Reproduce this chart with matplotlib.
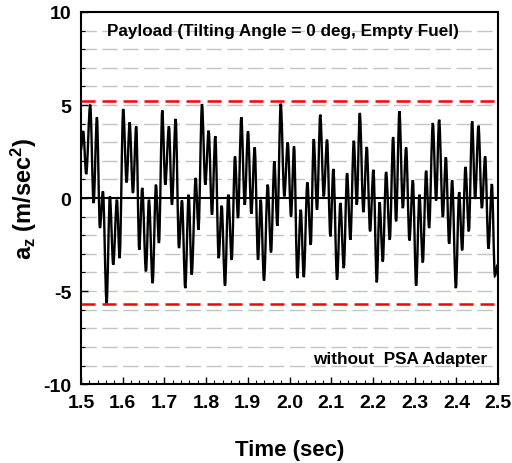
import numpy as np
import matplotlib.pyplot as plt
from matplotlib.path import Path
from matplotlib.patches import PathPatch

plt.rcParams['font.family'] = ['Liberation Sans', 'DejaVu Sans']
plt.rcParams['font.weight'] = 'bold'
plt.rcParams['mathtext.fontset'] = 'custom'
plt.rcParams['mathtext.rm'] = 'Liberation Sans:bold'
plt.rcParams['mathtext.bf'] = 'Liberation Sans:bold'
plt.rcParams['mathtext.it'] = 'Liberation Sans:bold'

# Acceleration response: successive peaks and troughs (time in sec, a_z in m/sec^2)
time = [
    1.5000, 1.5055, 1.5127, 1.5223, 1.5305, 1.5384, 1.5456, 1.5528, 1.5616, 1.5695,
    1.5775, 1.5863, 1.5928, 1.6014, 1.6096, 1.6168, 1.6247, 1.6326, 1.6398, 1.6470,
    1.6559, 1.6631, 1.6719, 1.6799, 1.6871, 1.6950, 1.7022, 1.7110, 1.7182, 1.7271,
    1.7350, 1.7422, 1.7501, 1.7583, 1.7655, 1.7751, 1.7818, 1.7902, 1.7981, 1.8062,
    1.8141, 1.8221, 1.8302, 1.8374, 1.8453, 1.8532, 1.8614, 1.8693, 1.8765, 1.8844,
    1.8926, 1.9005, 1.9084, 1.9165, 1.9245, 1.9309, 1.9388, 1.9477, 1.9556, 1.9636,
    1.9707, 1.9789, 1.9875, 1.9957, 2.0036, 2.0108, 2.0187, 2.0269, 2.0341, 2.0427,
    2.0508, 2.0580, 2.0659, 2.0736, 2.0820, 2.0899, 2.0978, 2.1050, 2.1139, 2.1218,
    2.1300, 2.1379, 2.1458, 2.1540, 2.1612, 2.1683, 2.1770, 2.1851, 2.1930, 2.2010,
    2.2091, 2.2158, 2.2235, 2.2314, 2.2403, 2.2482, 2.2554, 2.2633, 2.2715, 2.2794,
    2.2873, 2.2955, 2.3034, 2.3113, 2.3194, 2.3273, 2.3345, 2.3434, 2.3513, 2.3585,
    2.3674, 2.3746, 2.3825, 2.3897, 2.3986, 2.4065, 2.4137, 2.4216, 2.4297, 2.4376,
    2.4448, 2.4528, 2.4609, 2.4688, 2.4767, 2.4849, 2.4921, 2.4985,
]
accel = [
    2.60, 3.60, 1.29, 5.02, -0.27, 4.34, -1.61, 0.36, -5.65, 0.09,
    -3.58, -0.09, -3.23, 4.78, 0.84, 4.07, 0.27, 3.85, -2.78, 0.54,
    -3.94, -0.09, -4.57, 0.72, -2.42, 4.71, 0.72, 3.85, -0.36, 4.25,
    -2.69, -0.13, -4.84, 0.18, -4.12, 1.08, -1.70, 5.05, 0.72, 3.62,
    -0.90, 3.32, -3.23, -0.41, -4.71, 0.18, -3.32, 2.24, -1.08, 4.34,
    -0.36, 3.58, -0.84, 2.72, -3.32, -0.09, -4.43, 0.72, -2.92, 1.97,
    -1.49, 5.07, 0.09, 2.99, -0.99, 2.78, -4.30, -0.63, -4.25, 0.84,
    -2.51, 3.17, -0.63, 4.48, 0.09, 3.14, -2.06, 1.56, -4.39, -0.27,
    -3.76, 1.34, -2.24, 3.08, -0.36, 4.57, -0.75, 2.74, -1.79, 1.52,
    -4.53, -0.23, -3.41, 1.40, -2.24, 3.28, -1.25, 4.66, -0.54, 2.72,
    -2.28, 0.95, -4.71, 0.18, -3.46, 1.47, -1.61, 4.03, -0.13, 4.21,
    -1.02, 2.20, -2.46, 0.95, -4.84, 0.32, -2.81, 1.67, -1.79, 4.12,
    -0.05, 3.89, -0.54, 2.24, -2.72, 0.75, -4.18, -3.60,
]

# Max / min envelope levels
upper_limit = 5.2
lower_limit = -5.7

fig = plt.figure(figsize=(5.12, 4.64), dpi=100)
ax = fig.add_axes([0.158, 0.170, 0.815, 0.802])

# light dashed grid at every 1 m/sec^2
for g in range(-9, 10):
    if g == 0:
        continue
    ax.axhline(g, color='#c4c4c4', lw=1.0, ls=(0, (11, 4)), zorder=1)

ax.axhline(0, color='black', lw=1.5, zorder=2)
ax.axhline(upper_limit, color='#ff0000', lw=1.8, ls=(0, (5.6, 2.8)), zorder=3)
ax.axhline(lower_limit, color='#ff0000', lw=1.8, ls=(0, (5.6, 2.8)), zorder=3)

# smooth curve through the extrema (horizontal tangent at each peak)
verts = [(time[0], accel[0])]
codes = [Path.MOVETO]
for i in range(1, len(time)):
    t0, y0 = time[i - 1], accel[i - 1]
    t1, y1 = time[i], accel[i]
    dt = (t1 - t0) / 3.0
    verts += [(t0 + dt, y0), (t1 - dt, y1), (t1, y1)]
    codes += [Path.CURVE4] * 3
ax.add_patch(PathPatch(Path(verts, codes), facecolor='none', edgecolor='black',
                       lw=1.7, zorder=4))

ax.set_xlim(1.5, 2.5)
ax.set_ylim(-10, 10)
ax.set_xticks(np.arange(1.5, 2.51, 0.1))
ax.set_xticks(np.arange(1.5, 2.51, 0.02), minor=True)
ax.set_xticklabels([f'{v:.1f}' for v in np.arange(1.5, 2.51, 0.1)])
ax.set_yticks([-10, -5, 0, 5, 10])
ax.set_yticks(np.arange(-10, 11, 1), minor=True)
ax.set_yticklabels(['-10', '-5', '0', '5', '10'])
ax.tick_params(axis='both', which='major', direction='in', length=5, width=1,
               labelsize=14, pad=7)
ax.tick_params(axis='both', which='minor', direction='in', length=3, width=0.8)
ax.tick_params(top=False, right=False, which='both')
for s in ax.spines.values():
    s.set_linewidth(1.5)

ax.set_xlabel('Time (sec)', fontsize=16, fontweight='bold', labelpad=20)
ax.set_ylabel(r'a$_\mathbf{z}$ (m/sec$^\mathbf{2}$)', fontsize=17,
              fontweight='bold', labelpad=3)

ax.text(1.983, 9.0, 'Payload (Tilting Angle = 0 deg, Empty Fuel)', ha='center',
        va='center', fontsize=12.3, fontweight='bold', zorder=5)
ax.text(2.474, -8.6, 'without  PSA Adapter', ha='right', va='center',
        fontsize=12.3, fontweight='bold', zorder=5)

fig.savefig('out.png', dpi=100)
